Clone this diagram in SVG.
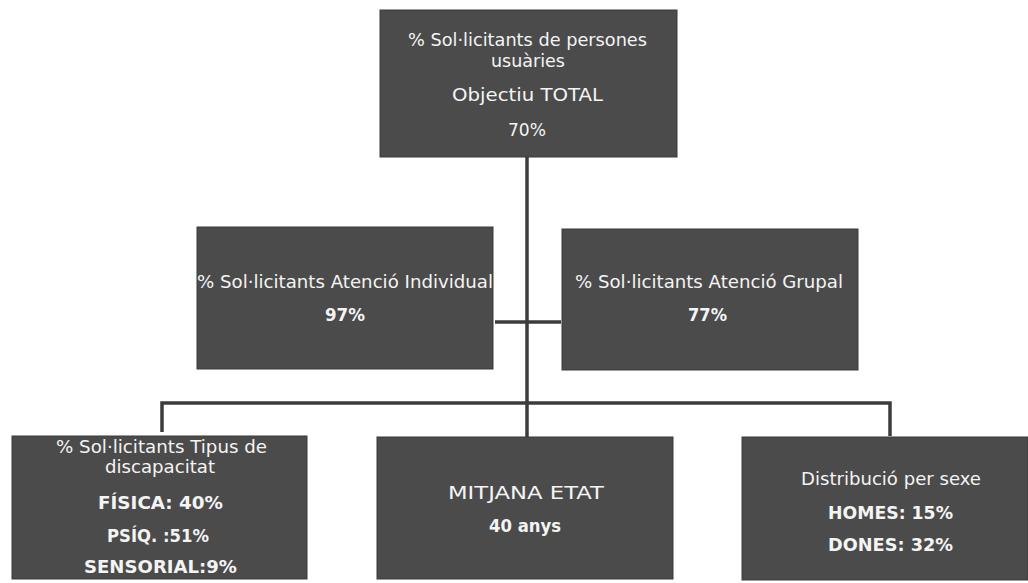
<svg xmlns="http://www.w3.org/2000/svg" width="1028" height="583" viewBox="0 0 1028 583">
<style>
.box{fill:#4b4b4b;stroke:#3a3a3a;stroke-width:1}
.t{font-family:"DejaVu Sans","Open Sans",sans-serif;font-size:17px;fill:#f4f4f4;text-anchor:middle}
.b{font-weight:bold}
.c{stroke:#3c3c3c;stroke-width:3.5;fill:none}
</style>
<rect width="1028" height="583" fill="#ffffff"/>
<g id="connectors">
<line class="c" x1="527" y1="157" x2="527" y2="437"/>
<line class="c" x1="495" y1="322" x2="561" y2="322"/>
<polyline class="c" points="162,432 162,403 890,403 890,436"/>
</g>
<g id="n-total">
<rect class="box" x="380" y="10" width="297" height="147"/>
<text class="t" x="527.5" y="46" textLength="239" lengthAdjust="spacingAndGlyphs">% Sol·licitants de persones</text>
<text class="t" x="528" y="67" textLength="74" lengthAdjust="spacingAndGlyphs">usuàries</text>
<text class="t" x="527.5" y="101" textLength="151" lengthAdjust="spacingAndGlyphs">Objectiu TOTAL</text>
<text class="t" x="527" y="136" textLength="38" lengthAdjust="spacingAndGlyphs">70%</text>
</g>
<g id="n-individual">
<rect class="box" x="197" y="227" width="296" height="142"/>
<text class="t" x="345" y="288" textLength="296" lengthAdjust="spacingAndGlyphs">% Sol·licitants Atenció Individual</text>
<text class="t b" x="345" y="321" textLength="40" lengthAdjust="spacingAndGlyphs">97%</text>
</g>
<g id="n-grupal">
<rect class="box" x="562" y="229" width="296" height="141"/>
<text class="t" x="709" y="288" textLength="268" lengthAdjust="spacingAndGlyphs">% Sol·licitants Atenció Grupal</text>
<text class="t b" x="707.5" y="321" textLength="39" lengthAdjust="spacingAndGlyphs">77%</text>
</g>
<g id="n-discapacitat">
<rect class="box" x="12" y="436" width="295" height="143"/>
<text class="t" x="161.5" y="453" textLength="211" lengthAdjust="spacingAndGlyphs">% Sol·licitants Tipus de</text>
<text class="t" x="160" y="473" textLength="110" lengthAdjust="spacingAndGlyphs">discapacitat</text>
<text class="t b" x="160.5" y="509" textLength="125" lengthAdjust="spacingAndGlyphs">FÍSICA: 40%</text>
<text class="t b" x="158" y="542" textLength="102" lengthAdjust="spacingAndGlyphs">PSÍQ. :51%</text>
<text class="t b" x="160.5" y="573" textLength="153" lengthAdjust="spacingAndGlyphs">SENSORIAL:9%</text>
</g>
<g id="n-edat">
<rect class="box" x="377" y="437" width="296" height="142"/>
<text class="t" x="526" y="499" textLength="156" lengthAdjust="spacingAndGlyphs">MITJANA ETAT</text>
<text class="t b" x="525" y="532" textLength="72" lengthAdjust="spacingAndGlyphs">40 anys</text>
</g>
<g id="n-sexe">
<rect class="box" x="742" y="437" width="286" height="143"/>
<text class="t" x="891" y="485" textLength="180" lengthAdjust="spacingAndGlyphs">Distribució per sexe</text>
<text class="t b" x="890.5" y="519" textLength="125" lengthAdjust="spacingAndGlyphs">HOMES: 15%</text>
<text class="t b" x="890.5" y="551" textLength="125" lengthAdjust="spacingAndGlyphs">DONES: 32%</text>
</g>
</svg>
